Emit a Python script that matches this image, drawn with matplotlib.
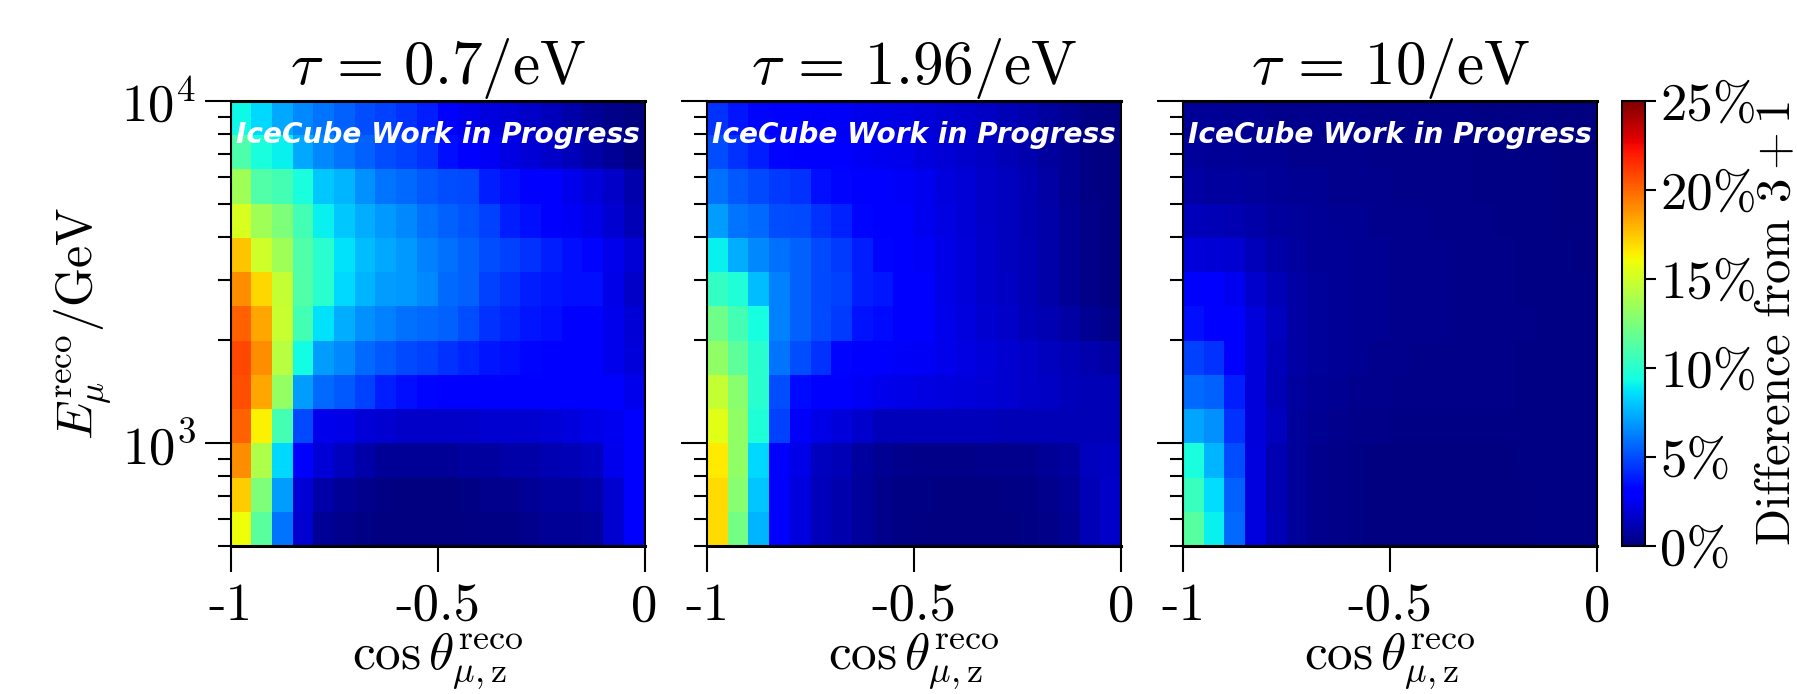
import numpy as np
import matplotlib
matplotlib.use('Agg')
import matplotlib.pyplot as plt

plt.rcParams['mathtext.fontset'] = 'cm'
plt.rcParams['font.family'] = 'cmr10'
plt.rcParams['axes.formatter.use_mathtext'] = True

# bin edges
cos_edges = np.arange(21) / 20 - 1
log_edges = np.log10(500) + np.arange(14) * np.log10(20) / 13
e_edges = 10 ** log_edges

titles = [r'$\tau\,=\,0.7/\mathrm{eV}$', r'$\tau\,=\,1.96/\mathrm{eV}$', r'$\tau\,=\,10/\mathrm{eV}$']
xticks = [-1, -0.5, 0]
xticklabels = ['-1', '-0.5', '0']
cbar_ticks = [0, 5, 10, 15, 20, 25]
cbar_labels = ['0%', '5%', '10%', '15%', '20%', '25%']

# rows listed from the top of the plot down, values read through the jet colours
diff_07 = [
    [9.2, 8.4, 7.25, 6.5, 6.0, 5.5, 5.0, 4.7, 4.3, 3.9, 3.0, 2.4, 2.1, 1.9, 1.6, 1.3, 0.9, 0.5, 0.2, 0.05],
    [11.1, 9.5, 9.0, 7.25, 6.5, 6.0, 5.5, 5.0, 4.7, 4.3, 3.5, 3.0, 2.6, 2.2, 1.9, 1.6, 1.3, 0.9, 0.5, 0.1],
    [13.6, 11.2, 10.8, 9.5, 8.1, 7.6, 6.7, 6.0, 5.7, 5.3, 5.0, 4.9, 3.9, 3.5, 3.0, 2.8, 2.4, 2.0, 1.6, 1.0],
    [15.3, 13.6, 12.5, 10.8, 9.0, 8.1, 7.4, 6.9, 6.5, 5.9, 5.5, 5.2, 4.7, 3.9, 3.5, 3.0, 2.6, 2.3, 1.8, 1.2],
    [17.5, 15.0, 13.6, 11.2, 10.0, 8.6, 7.8, 7.25, 6.9, 6.25, 5.9, 5.5, 5.0, 4.7, 4.3, 3.9, 3.5, 3.3, 2.4, 1.9],
    [19.0, 17.0, 14.7, 11.2, 10.0, 8.4, 7.6, 7.0, 6.9, 6.5, 5.7, 5.5, 4.7, 4.3, 3.9, 3.7, 3.5, 3.5, 2.3, 1.6],
    [20.2, 18.3, 14.8, 10.8, 8.6, 7.4, 6.7, 6.25, 5.9, 5.7, 5.5, 5.0, 4.3, 4.1, 3.7, 3.5, 3.0, 2.9, 2.4, 1.9],
    [20.85, 19.0, 14.3, 9.3, 7.0, 6.5, 5.7, 5.3, 4.9, 4.7, 4.3, 4.1, 3.7, 3.5, 3.3, 3.0, 2.9, 2.8, 2.4, 2.0],
    [20.7, 18.3, 13.2, 7.0, 5.7, 5.3, 4.7, 3.9, 3.5, 3.3, 3.1, 3.0, 3.0, 3.0, 3.0, 3.0, 3.0, 3.0, 2.8, 2.4],
    [20.2, 16.4, 10.8, 4.9, 2.4, 2.3, 1.9, 1.8, 1.6, 1.6, 1.6, 1.6, 1.8, 1.8, 1.8, 1.9, 2.1, 2.3, 2.5, 2.8],
    [19.0, 14.0, 8.4, 2.9, 1.9, 1.4, 0.9, 0.5, 0.5, 0.5, 0.5, 0.7, 0.7, 0.9, 0.9, 1.1, 1.2, 1.4, 2.4, 2.8],
    [17.3, 12.5, 7.0, 1.9, 0.9, 0.5, 0.3, 0.15, 0.05, 0.05, 0.05, 0.15, 0.3, 0.3, 0.5, 0.7, 0.7, 0.9, 1.8, 2.8],
    [16.0, 11.5, 6.0, 1.8, 0.5, 0.3, 0.15, 0.05, 0.05, 0.05, 0.05, 0.05, 0.15, 0.15, 0.3, 0.5, 0.5, 0.6, 1.8, 2.8],
]
diff_196 = [
    [4.3, 3.7, 3.3, 2.9, 2.8, 2.7, 2.6, 2.4, 2.3, 2.2, 2.0, 1.8, 1.7, 1.5, 1.2, 1.0, 0.7, 0.4, 0.15, 0.05],
    [5.0, 4.3, 3.9, 3.3, 3.1, 2.9, 2.8, 2.6, 2.5, 2.4, 2.1, 1.9, 1.7, 1.5, 1.2, 1.0, 0.7, 0.4, 0.15, 0.05],
    [5.9, 5.3, 4.9, 4.5, 4.3, 3.5, 3.3, 2.9, 2.8, 2.7, 2.5, 2.1, 1.9, 1.6, 1.4, 1.1, 0.8, 0.4, 0.15, 0.05],
    [7.0, 6.0, 5.7, 5.0, 4.9, 4.3, 4.0, 3.3, 3.0, 2.9, 2.5, 2.2, 1.9, 1.6, 1.4, 1.1, 0.9, 0.5, 0.2, 0.05],
    [9.0, 7.4, 6.5, 5.9, 5.5, 4.9, 4.5, 3.9, 3.3, 3.0, 2.7, 2.3, 2.0, 1.7, 1.4, 1.2, 0.9, 0.5, 0.2, 0.05],
    [10.3, 9.7, 7.8, 6.3, 5.5, 4.9, 4.7, 3.9, 3.7, 3.0, 2.8, 2.3, 2.0, 1.7, 1.5, 1.2, 0.9, 0.5, 0.2, 0.05],
    [12.1, 10.8, 9.4, 6.3, 5.5, 4.9, 4.5, 3.6, 3.4, 3.0, 2.8, 2.4, 2.1, 1.8, 1.6, 1.3, 1.1, 0.8, 0.4, 0.2],
    [13.1, 11.6, 10.0, 6.0, 5.0, 4.3, 3.3, 2.9, 2.8, 2.7, 2.6, 2.4, 2.2, 2.0, 1.8, 1.6, 1.4, 1.2, 1.0, 0.8],
    [14.7, 12.9, 10.0, 5.0, 3.4, 2.9, 2.8, 2.6, 2.4, 2.3, 2.2, 2.1, 2.0, 1.9, 1.8, 1.6, 1.5, 1.3, 1.2, 1.2],
    [15.6, 13.1, 9.7, 4.7, 2.7, 2.3, 2.0, 1.7, 1.3, 1.3, 1.3, 1.3, 1.3, 1.3, 1.2, 1.2, 1.2, 1.2, 1.2, 1.2],
    [16.6, 13.1, 8.4, 2.9, 2.3, 1.4, 1.2, 0.7, 0.4, 0.3, 0.25, 0.25, 0.25, 0.3, 0.3, 0.35, 0.5, 0.7, 1.4, 1.5],
    [16.9, 12.8, 8.0, 2.9, 2.1, 1.3, 1.0, 0.6, 0.35, 0.15, 0.1, 0.05, 0.05, 0.05, 0.1, 0.15, 0.3, 0.5, 1.2, 1.6],
    [16.9, 12.3, 7.6, 2.9, 2.1, 1.3, 1.0, 0.6, 0.3, 0.1, 0.05, 0.02, 0.02, 0.02, 0.05, 0.1, 0.2, 0.4, 1.2, 1.6],
]
diff_10 = [
    [0.5, 0.5, 0.4, 0.4, 0.35, 0.35, 0.3, 0.3, 0.3, 0.25, 0.25, 0.2, 0.2, 0.2, 0.15, 0.15, 0.1, 0.1, 0.05, 0.05],
    [0.6, 0.5, 0.5, 0.4, 0.4, 0.35, 0.35, 0.3, 0.3, 0.25, 0.25, 0.2, 0.2, 0.2, 0.15, 0.15, 0.1, 0.1, 0.05, 0.05],
    [0.8, 0.7, 0.7, 0.6, 0.5, 0.45, 0.4, 0.35, 0.3, 0.3, 0.25, 0.25, 0.2, 0.2, 0.15, 0.15, 0.1, 0.1, 0.05, 0.05],
    [1.3, 1.2, 1.1, 0.9, 0.7, 0.6, 0.5, 0.45, 0.4, 0.35, 0.3, 0.3, 0.25, 0.2, 0.2, 0.15, 0.15, 0.1, 0.05, 0.05],
    [2.0, 1.9, 1.8, 1.3, 0.9, 0.7, 0.55, 0.5, 0.45, 0.4, 0.35, 0.3, 0.3, 0.25, 0.2, 0.2, 0.15, 0.15, 0.1, 0.05],
    [2.9, 2.8, 2.5, 1.7, 1.2, 0.8, 0.65, 0.55, 0.45, 0.4, 0.35, 0.3, 0.3, 0.25, 0.2, 0.2, 0.15, 0.15, 0.1, 0.1],
    [3.5, 3.0, 3.0, 2.0, 1.4, 0.85, 0.65, 0.55, 0.45, 0.4, 0.35, 0.3, 0.3, 0.25, 0.25, 0.2, 0.2, 0.15, 0.15, 0.1],
    [4.7, 4.3, 3.0, 2.0, 1.3, 0.8, 0.6, 0.5, 0.4, 0.35, 0.3, 0.25, 0.25, 0.25, 0.2, 0.2, 0.15, 0.15, 0.15, 0.1],
    [5.7, 5.5, 3.9, 2.0, 1.2, 0.7, 0.5, 0.4, 0.35, 0.3, 0.25, 0.25, 0.2, 0.2, 0.2, 0.2, 0.15, 0.15, 0.15, 0.1],
    [7.2, 6.7, 4.3, 2.0, 1.4, 0.6, 0.4, 0.3, 0.2, 0.2, 0.15, 0.15, 0.1, 0.1, 0.1, 0.1, 0.1, 0.15, 0.15, 0.15],
    [9.5, 7.6, 5.0, 2.1, 1.1, 0.6, 0.3, 0.2, 0.1, 0.05, 0.05, 0.05, 0.05, 0.05, 0.05, 0.05, 0.1, 0.15, 0.15, 0.15],
    [10.5, 8.5, 5.5, 2.1, 1.1, 0.6, 0.3, 0.2, 0.1, 0.05, 0.05, 0.05, 0.05, 0.05, 0.05, 0.05, 0.05, 0.1, 0.15, 0.15],
    [11.4, 9.0, 5.7, 2.1, 1.2, 0.6, 0.3, 0.2, 0.1, 0.05, 0.05, 0.05, 0.05, 0.05, 0.05, 0.05, 0.05, 0.1, 0.15, 0.15],
]
panels = [diff_07, diff_196, diff_10]

W, H = 1797, 694
fig = plt.figure(figsize=(W / 100, H / 100), dpi=100)
lefts = [230.5, 707, 1183]
top, bottom, width = 101, 546, 414

for i, left in enumerate(lefts):
    ax = fig.add_axes([left / W, 1 - bottom / H, width / W, (bottom - top) / H])
    # rows were read top down, the y axis goes bottom up
    z = np.array(panels[i])[::-1]
    m = ax.pcolormesh(cos_edges, e_edges, z, cmap='jet', vmin=0, vmax=25, rasterized=True)
    ax.set_yscale('log')
    ax.set_xlim(-1, 0)
    ax.set_ylim(500, 10000)
    ax.set_xticks(xticks)
    ax.set_xticklabels(xticklabels, fontsize=38)
    ax.set_yticks([1000, 10000])
    ax.set_yticks([500, 600, 700, 800, 900, 2000, 3000, 4000, 5000, 6000, 7000, 8000, 9000], minor=True)
    ax.tick_params(axis='y', which='major', length=19, width=1.5, direction='out', pad=6)
    ax.tick_params(axis='y', which='minor', length=9.5, width=1.5, labelleft=False)
    ax.tick_params(axis='x', which='major', length=19, width=1.5, pad=8)
    if i == 0:
        ax.set_yticklabels([r'$10^3$', r'$10^4$'], fontsize=38)
        ax.set_ylabel(r'$E_\mu^{\mathrm{reco}}/\mathrm{GeV}$', fontsize=36)
        ax.yaxis.set_label_coords(-0.281, 0.5)
    else:
        ax.set_yticklabels([])
    ax.set_xlabel(r'$\cos\theta_{\mu,\mathrm{z}}^{\mathrm{reco}}$', fontsize=37)
    ax.xaxis.set_label_coords(0.5, -0.19)
    ax.set_title(titles[i], fontsize=44, pad=8)
    ax.spines['top'].set_linewidth(2.2)
    ax.spines['bottom'].set_linewidth(2.2)
    ax.spines['left'].set_linewidth(1.5)
    ax.spines['right'].set_linewidth(1.5)
    ax.text(0.5, 0.923, 'IceCube Work in Progress', transform=ax.transAxes, color='white',
            fontsize=20.2, family='DejaVu Sans', fontweight='bold', fontstyle='italic', ha='center', va='center')

cax = fig.add_axes([1622 / W, 1 - bottom / H, 23 / W, (bottom - top) / H])
cb = fig.colorbar(m, cax=cax)
cb.set_ticks(cbar_ticks)
cb.set_ticklabels(cbar_labels, fontsize=38)
cb.ax.tick_params(length=8, width=1.5, pad=3)
cb.outline.set_linewidth(1.5)
fig.text(1756 / W, 1 - 546 / H, r'Difference from $3+1$', fontsize=35, rotation=90, ha='left', va='bottom')

fig.savefig('out.png', dpi=100)
